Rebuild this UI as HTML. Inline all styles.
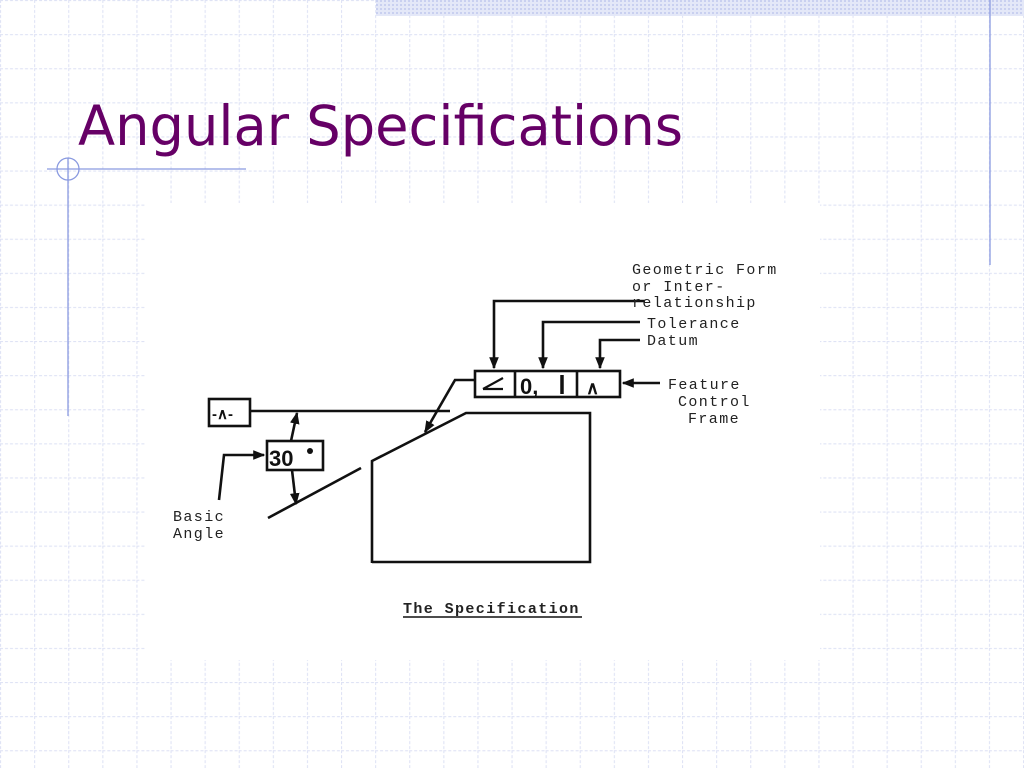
<!DOCTYPE html>
<html><head><meta charset="utf-8"><style>
html,body{margin:0;padding:0;width:1024px;height:768px;overflow:hidden;background:#fff}
svg{display:block}
</style></head><body>
<svg width="1024" height="768" xmlns="http://www.w3.org/2000/svg">
<defs>
<pattern id="g" width="34.1" height="34.1" patternUnits="userSpaceOnUse">
<path d="M0 0.5H34.1M0.5 0V34.1" stroke="#dfe3f5" stroke-width="1.2" stroke-dasharray="3 2" fill="none"/>
</pattern>
<pattern id="d" width="4" height="4" patternUnits="userSpaceOnUse"><rect width="4" height="4" fill="#e4e8f8"/><rect width="2" height="2" fill="#c9d0f0"/></pattern>
<marker id="a" viewBox="0 0 10 10" refX="9" refY="5" markerWidth="12" markerHeight="12" markerUnits="userSpaceOnUse" orient="auto"><path d="M0 1L10 5L0 9z" fill="#111"/></marker>
</defs>
<rect width="1024" height="768" fill="url(#g)"/>
<rect x="376" y="0" width="648" height="16" fill="url(#d)"/>
<line x1="990" y1="0" x2="990" y2="265" stroke="#8a9ae0" stroke-width="1.3"/>
<line x1="68" y1="158" x2="68" y2="416" stroke="#8a9ae0" stroke-width="1.3"/>
<line x1="47" y1="169" x2="246" y2="169" stroke="#8a9ae0" stroke-width="1.3"/>
<circle cx="68" cy="169" r="11" fill="none" stroke="#8a9ae0" stroke-width="1.3"/>
<rect x="145" y="203" width="675" height="457" fill="#fff"/>
<text x="78" y="145" font-family="DejaVu Sans, Liberation Sans, sans-serif" font-size="55" fill="#660066" textLength="605" lengthAdjust="spacingAndGlyphs">Angular Specifications</text>
<g stroke="#111" stroke-width="2.6" fill="none">
<rect x="475" y="371" width="145" height="26"/>
<line x1="515" y1="371" x2="515" y2="397"/>
<line x1="577" y1="371" x2="577" y2="397"/>
<rect x="209" y="399" width="41" height="27"/>
<rect x="267" y="441" width="56" height="29"/>
<line x1="250" y1="411" x2="450" y2="411"/>
<path d="M372 563V461L466 413H590V562H372"/>
<line x1="268" y1="518" x2="361" y2="468"/>
<path d="M645 301H494V368" marker-end="url(#a)"/>
<path d="M640 322H543V368" marker-end="url(#a)"/>
<path d="M640 340H600V368" marker-end="url(#a)"/>
<line x1="660" y1="383" x2="623" y2="383" marker-end="url(#a)"/>
<path d="M475 380H455L425 432" marker-end="url(#a)"/>
<line x1="291" y1="441" x2="297" y2="413" marker-end="url(#a)"/>
<line x1="292" y1="470" x2="296" y2="504" marker-end="url(#a)"/>
<path d="M219 500L224 455H264" marker-end="url(#a)"/>
<path d="M483 389L503 378M483 389H503" stroke-width="2.2"/>
<line x1="403" y1="617" x2="582" y2="617" stroke-width="1.6"/>
</g>
<g font-family="Liberation Sans, sans-serif" font-weight="bold" fill="#111">
<text x="520" y="394" font-size="22">0,</text>
<line x1="562" y1="375" x2="562" y2="394" stroke="#111" stroke-width="3.5"/>
<text x="586" y="394" font-size="18">∧</text>
<text x="212" y="419" font-size="15">-∧-</text>
<text x="269" y="466" font-size="22">30</text>
<circle cx="310" cy="451" r="3" fill="#111"/>
</g>
<g font-family="Liberation Mono, monospace" font-size="15" letter-spacing="1.4" fill="#222">
<text x="632" y="274">Geometric Form</text>
<text x="632" y="291">or Inter-</text>
<text x="632" y="307">relationship</text>
<text x="647" y="328">Tolerance</text>
<text x="647" y="345">Datum</text>
<text x="668" y="389">Feature</text>
<text x="678" y="406">Control</text>
<text x="688" y="423">Frame</text>
<text x="173" y="521">Basic</text>
<text x="173" y="538">Angle</text>
<text x="403" y="613" font-weight="bold">The Specification</text>
</g>
</svg>
</body></html>
